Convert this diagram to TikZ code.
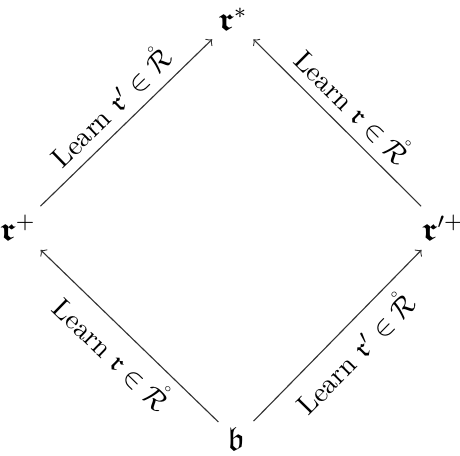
\documentclass[tikz,border=0pt]{standalone}
\usepackage{amsmath,amssymb}
\begin{document}
\begin{tikzpicture}[x=0.357pt,y=-0.357pt,
  obj/.style={inner sep=3pt,font=\large},
  arr/.style={->,>=to,line width=0.4pt,draw=black!80},
  lab/.style={sloped,font=\normalsize}]
\useasboundingbox (0,0) rectangle (460,455);
\node[obj] (rs) at (233,19) {$\boldsymbol{\mathfrak{r}}^{*}$};
\node[obj] (rp) at (18,228) {$\boldsymbol{\mathfrak{r}}^{+}$};
\node[obj] (rpp) at (443,228) {$\boldsymbol{\mathfrak{r}}'^{+}$};
\node[obj] (b) at (236,439) {$\mathfrak{b}$};
\draw[arr] (rp) -- node[lab,above] {Learn $\mathfrak{r}'\in\mathring{\mathcal{R}}$} (rs);
\draw[arr] (rpp) -- node[lab,above] {Learn $\mathfrak{r}\in\mathring{\mathcal{R}}$} (rs);
\draw[arr] (b) -- node[lab,below] {Learn $\mathfrak{r}\in\mathring{\mathcal{R}}$} (rp);
\draw[arr] (b) -- node[lab,below] {Learn $\mathfrak{r}'\in\mathring{\mathcal{R}}$} (rpp);
\end{tikzpicture}
\end{document}
